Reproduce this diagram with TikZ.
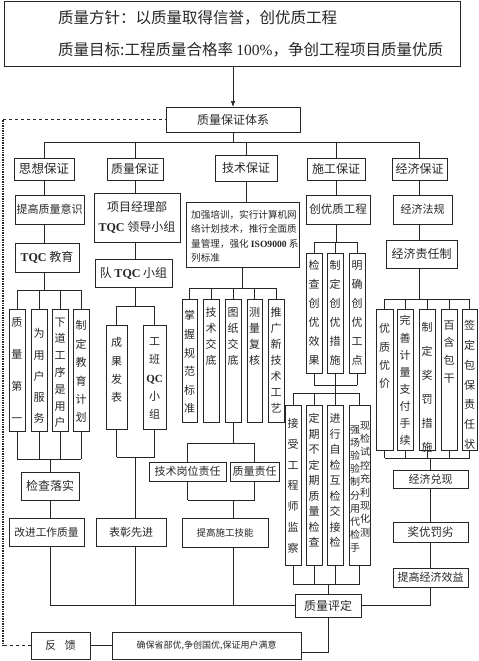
\documentclass[tikz,border=0pt]{standalone}
\usepackage{fontspec}
\setmainfont{Noto Sans CJK SC}
\newfontfamily\lat{Liberation Serif}
\usetikzlibrary{arrows.meta}
\tikzset{
  box/.style={draw=black!85, line width=0.7pt, inner sep=0pt, outer sep=0pt, text=black!85},
  vt/.style={anchor=north, align=center, inner sep=0pt, text=black!85},
  ln/.style={line width=0.7pt, draw=black!85},
  fz/.style={font=\fontsize{#1}{#1}\selectfont},
}
% regular box: [opts]{name}{x1}{y1}{x2}{y2}{text}
\newcommand\bx[7][]{\node[box,#1, minimum width={(#5-#3)*1pt}, minimum height={(#6-#4)*1pt}] (#2) at ({(#3+#5)/2},{(#4+#6)/2}) {#7};}
% tall box: {name}{x1}{y1}{x2}{y2}{first char y}{spacing}{text}
\newcommand\tb[8]{\node[box, minimum width={(#4-#2)*1pt}, minimum height={(#5-#3)*1pt}] (#1) at ({(#2+#4)/2},{(#3+#5)/2}) {};
  \node[vt, font=\fontsize{11}{#7}\selectfont] (#1t) at ({(#2+#4)/2},{#6-4.6}) {#8};}
\newcommand\TQC{{\lat\bfseries TQC}}
\begin{document}
\begin{tikzpicture}[x=1pt,y=-1pt]
\useasboundingbox (0,0) rectangle (479,661);
% top
\bx{top}{4}{1}{460}{66}{}
\node[anchor=west, inner sep=0pt, text=black!85, fz=15.5] (top1) at (58,18) {质量方针：以质量取得信誉，创优质工程};
\node[anchor=west, inner sep=0pt, text=black!85, fz=15.5] (top2) at (58,50) {质量目标:工程质量合格率 {\lat 100\%}，争创工程项目质量优质};
\bx[fz=12]{sys}{166}{107}{300}{132}{质量保证体系}
% level 1
\bx[fz=12.5]{g1}{14}{158}{74}{180}{思想保证}
\bx[fz=12]{g2}{107}{158}{163}{180}{质量保证}
\bx[fz=12]{g3}{215}{155}{277}{181}{技术保证}
\bx[fz=12]{g4}{307}{158}{365}{180}{施工保证}
\bx[fz=12]{g5}{392}{158}{447}{180}{经济保证}
% level 2
\bx[fz=11]{s1}{15}{195}{84}{224}{提高质量意识}
\bx[align=center, font=\fontsize{12}{20}\selectfont]{q1}{94}{193}{180}{242}{项目经理部\\\TQC{} 领导小组}
\bx{t1}{186}{202}{299}{267}{}
\node[anchor=west, align=left, inner sep=0pt, text=black!85, font=\fontsize{9.6}{14.4}\selectfont] (t1t) at (191,236.5) {加强培训，实行计算机网\\络计划技术，推行全面质\\量管理，强化 {\lat\bfseries ISO9000} 系\\列标准};
\bx[fz=11.5]{c1}{306}{195}{370}{224}{创优质工程}
\bx[fz=11]{e1}{393}{195}{452}{224}{经济法规}
% level 3
\bx[fz=12]{s2}{15}{243}{79}{272}{\TQC{} 教育}
\bx[fz=12]{q2}{95}{259}{172}{287}{队 \TQC{} 小组}
\bx[fz=12]{e2}{386}{240}{457}{268}{经济责任制}
% tall boxes
\tb{s3}{9}{309}{25}{431}{322}{32}{质\\量\\第\\一}
\tb{s4}{31}{309}{47}{431}{333}{21.25}{为\\用\\户\\服\\务}
\tb{s5}{52}{309}{68}{431}{322}{16.8}{下\\道\\工\\序\\是\\用\\户}
\tb{s6}{73}{309}{89}{431}{325}{18.4}{制\\定\\教\\育\\计\\划}
\tb{q3}{106}{325}{127}{429}{342}{18.3}{成\\果\\发\\表}
\tb{q4}{143}{325}{166}{429}{342}{18.3}{工\\班\\{\lat\bfseries QC}\\小\\组}
\tb{t2}{182}{299}{197}{422}{315}{18.6}{掌\\握\\规\\范\\标\\准}
\tb{t3}{203}{299}{219}{422}{312}{16}{技\\术\\交\\底}
\tb{t4}{225}{299}{241}{422}{312}{16}{图\\纸\\交\\底}
\tb{t5}{247}{299}{262}{422}{312}{16}{测\\量\\复\\核}
\tb{t6}{268}{299}{284}{422}{312}{16}{推\\广\\新\\技\\术\\工\\艺}
\tb{c2}{306}{253}{322}{373}{265}{19}{检\\查\\创\\优\\效\\果}
\tb{c3}{327}{253}{343}{373}{265}{19}{制\\定\\创\\优\\措\\施}
\tb{c4}{349}{253}{365}{373}{265}{19}{明\\确\\创\\优\\工\\点}
\tb{c5}{285}{405}{301}{565}{423}{20.7}{接\\受\\工\\程\\师\\监\\察}
\tb{c6}{306}{405}{322}{565}{418}{15.5}{定\\期\\不\\定\\期\\质\\量\\检\\查}
\tb{c7}{327}{405}{343}{565}{418}{15.5}{进\\行\\自\\检\\互\\检\\交\\接\\检}
\bx{c8}{349}{405}{370}{565}{}
\node[vt, font=\fontsize{10}{13.2}\selectfont] (c8l) at (355,425) {强\\场\\验\\验\\制\\分\\用\\代\\检\\手};
\node[vt, font=\fontsize{10}{13.4}\selectfont] (c8r) at (365,421) {现\\检\\试\\控\\充\\利\\现\\化\\测};
\tb{e3}{376}{309}{393}{450}{328}{18.3}{优\\质\\优\\价}
\tb{e4}{397}{309}{413}{450}{320}{17.1}{完\\善\\计\\量\\支\\付\\手\\续}
\tb{e5}{419}{309}{435}{450}{327}{24}{制\\定\\奖\\罚\\措\\施}
\tb{e6}{441}{309}{457}{450}{325}{17.7}{百\\含\\包\\干}
\tb{e7}{462}{309}{477}{450}{325}{19.7}{签\\定\\包\\保\\责\\任\\状}
% lower boxes
\bx[fz=12]{s7}{21}{472}{79}{500}{检查落实}
\bx[fz=10.7]{s8}{9}{518}{84}{546}{改进工作质量}
\bx[fz=11]{q5}{96}{518}{166}{546}{表彰先进}
\bx[fz=11]{t7}{149}{462}{226}{481}{技术岗位责任}
\bx[fz=11]{t8}{230}{462}{279}{481}{质量责任}
\bx[fz=9.5]{t9}{182}{518}{268}{547}{提高施工技能}
\bx[fz=11]{e8}{393}{470}{468}{488}{经济兑现}
\bx[fz=11.5]{e9}{393}{522}{468}{542}{奖优罚劣}
\bx[fz=11]{e10}{393}{568}{468}{587}{提高经济效益}
\bx[fz=12]{pd}{295}{594}{361}{617}{质量评定}
\bx[fz=11]{fb}{31}{632}{90}{659}{反\hspace{9pt}馈}
\bx[fz=9]{ens}{112}{632}{301}{659}{确保省部优,争创国优,保证用户满意}
% bus coordinates
\coordinate (b1) at (0,142);
\coordinate (b2) at (0,290);
\coordinate (b3) at (0,459);
\coordinate (b4) at (0,306);
\coordinate (b5) at (0,457);
\coordinate (b6) at (0,288);
\coordinate (b7) at (0,443);
\coordinate (b8) at (0,500);
\coordinate (b9) at (0,242);
\coordinate (b10) at (0,385);
\coordinate (b11) at (0,393);
\coordinate (b12) at (0,584);
\coordinate (b13) at (0,299);
\coordinate (b14) at (0,458);
\coordinate (fx) at (3,0);
% connectors
\draw[ln,-{Latex[length=6pt,width=4.5pt]}] (top.south -| sys.north) -- (sys.north);
\draw[ln] (sys.south) -- (sys.south |- b1);
\draw[ln] (g1.north |- b1) -- (g5.north |- b1);
\foreach \n in {g1,g2,g3,g4,g5} \draw[ln] (\n.north) -- (\n.north |- b1);
% thought column
\draw[ln] (g1.south) -- (g1.south |- s1.north);
\draw[ln] (g1.south |- s1.south) -- (g1.south |- s2.north);
\draw[ln] (g1.south |- s2.south) -- (g1.south |- b2);
\draw[ln] (s3.north |- b2) -- (s6.north |- b2);
\foreach \n in {s3,s4,s5,s6} {\draw[ln] (\n.north) -- (\n.north |- b2); \draw[ln] (\n.south) -- (\n.south |- b3);}
\draw[ln] (s3.south |- b3) -- (s6.south |- b3);
\draw[ln] (s7.north |- b3) -- (s7.north);
\draw[ln] (s7.south) -- (s7.south |- s8.north);
\draw[ln] (s7.south |- s8.south) -- (s7.south |- pd.west) -- (pd.west);
% quality column
\draw[ln] (g2.south) -- (g2.south |- q1.north);
\draw[ln] (g2.south |- q1.south) -- (g2.south |- q2.north);
\draw[ln] (g2.south |- q2.south) -- (g2.south |- b4);
\draw[ln] (q3.north |- b4) -- (q4.north |- b4);
\draw[ln] (q3.south |- b5) -- (q4.south |- b5);
\foreach \n in {q3,q4} {\draw[ln] (\n.north) -- (\n.north |- b4); \draw[ln] (\n.south) -- (\n.south |- b5);}
\draw[ln] (g2.south |- b5) -- (g2.south |- q5.north);
\draw[ln] (g2.south |- q5.south) -- (g2.south |- pd.west);
% technical column
\draw[ln] (g3.south) -- (g3.south |- t1.north);
\draw[ln] (t1.south) -- (t1.south |- b6);
\draw[ln] (t2.north |- b6) -- (t6.north |- b6);
\foreach \n in {t2,t3,t4,t5,t6} \draw[ln] (\n.north) -- (\n.north |- b6);
\draw[ln] (t4.south) -- (t4.south |- b7);
\draw[ln] (t7.north |- b7) -- (t8.north |- b7);
\draw[ln] (t7.south |- b8) -- (t8.south |- b8);
\foreach \n in {t7,t8} {\draw[ln] (\n.north) -- (\n.north |- b7); \draw[ln] (\n.south) -- (\n.south |- b8);}
\draw[ln] (t4.south |- b8) -- (t4.south |- t9.north);
\draw[ln] (t4.south |- t9.south) -- (t4.south |- pd.west);
% construction column
\draw[ln] (g4.south) -- (g4.south |- c1.north);
\draw[ln] (g4.south |- c1.south) -- (g4.south |- b9);
\draw[ln] (c2.north |- b9) -- (c4.north |- b9);
\draw[ln] (c2.south |- b10) -- (c4.south |- b10);
\foreach \n in {c2,c3,c4} {\draw[ln] (\n.north) -- (\n.north |- b9); \draw[ln] (\n.south) -- (\n.south |- b10);}
\draw[ln] (c3.south |- b10) -- (c3.south |- b11);
\draw[ln] (c5.north |- b11) -- (c8.north |- b11);
\draw[ln] (c5.south |- b12) -- (c8.south |- b12);
\foreach \n in {c5,c6,c7,c8} {\draw[ln] (\n.north) -- (\n.north |- b11); \draw[ln] (\n.south) -- (\n.south |- b12);}
\draw[ln] (pd.north |- b12) -- (pd.north);
% economic column
\draw[ln] (g5.south) -- (g5.south |- e1.north);
\draw[ln] (g5.south |- e1.south) -- (g5.south |- e2.north);
\draw[ln] (g5.south |- e2.south) -- (g5.south |- b13);
\draw[ln] (e3.north |- b13) -- (e7.north |- b13);
\draw[ln] (e3.south |- b14) -- (e7.south |- b14);
\foreach \n in {e3,e4,e5,e6,e7} {\draw[ln] (\n.north) -- (\n.north |- b13); \draw[ln] (\n.south) -- (\n.south |- b14);}
\draw[ln] (e8.north |- b14) -- (e8.north);
\draw[ln] (e8.south) -- (e9.north);
\draw[ln] (e9.south) -- (e10.north);
\draw[ln] (e10.south) |- (pd.east);
% bottom
\draw[ln] (pd.south) |- ([yshift=-6.5pt]ens.east);
\draw[ln] (fb.east) -- (ens.west);
\draw[ln, dashed] (fb.west) -- (fb.west -| fx);
\draw[ln, densely dotted, line width=1.2pt] (fb.west -| fx) -- (sys.west -| fx);
\draw[ln, dashed] (sys.west -| fx) -- (sys.west);
\end{tikzpicture}
\end{document}
